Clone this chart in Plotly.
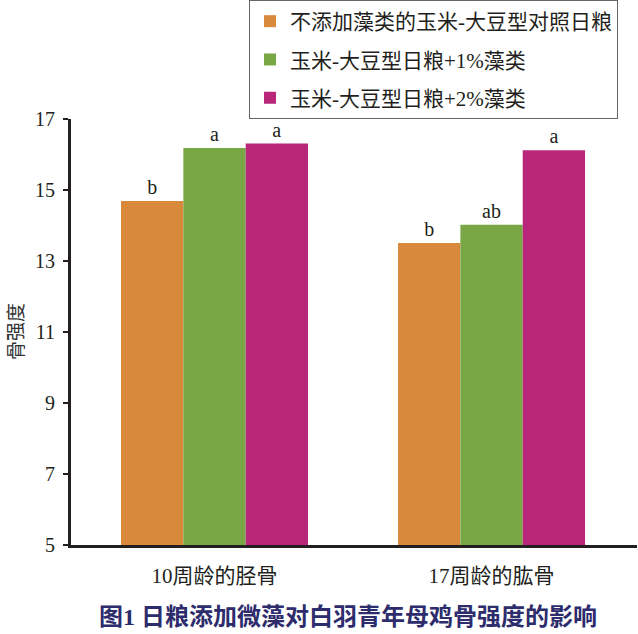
import plotly.graph_objects as go

categories = ["10周龄的胫骨", "17周龄的肱骨"]
series_names = ["不添加藻类的玉米-大豆型对照日粮", "玉米-大豆型日粮+1%藻类", "玉米-大豆型日粮+2%藻类"]
control_vals = [14.69, 13.51]
algae1_vals = [16.18, 14.02]
algae2_vals = [16.31, 16.12]
control_sig = ["b", "b"]
algae1_sig = ["a", "ab"]
algae2_sig = ["a", "a"]
colors = ["#d8893b", "#7aa746", "#b8277a"]
y_ticks = [5, 7, 9, 11, 13, 15, 17]
y_title = "骨强度"
fig_title = "图1 日粮添加微藻对白羽青年母鸡骨强度的影响"

fig = go.Figure()
for i, (name, vals, sig) in enumerate(zip(series_names,
                                          [control_vals, algae1_vals, algae2_vals],
                                          [control_sig, algae1_sig, algae2_sig])):
    fig.add_trace(go.Bar(
        x=categories, y=vals, name=name, legendgroup=f"g{i}",
        marker=dict(color=colors[i], line=dict(width=0)),
        text=sig, textposition="outside", constraintext="none",
        textfont=dict(family="Liberation Serif", size=20, color="#231f20"),
        cliponaxis=False,
    ))

axis_color = "#231f20"
fig.update_layout(
    width=638, height=634,
    margin=dict(l=71, r=1, t=118, b=89),
    paper_bgcolor="white", plot_bgcolor="white",
    barmode="group", bargap=0.325, bargroupgap=0,
    showlegend=True,
    legend=dict(
        x=(249 - 71) / 566, y=1 + 118 / 427, xanchor="left", yanchor="top",
        bordercolor="#666666", borderwidth=1, bgcolor="white",
        font=dict(family="Liberation Serif, Noto Sans CJK SC", size=21, color="#231f20"),
        traceorder="grouped", tracegroupgap=8,
    ),
    xaxis=dict(
        type="category", range=[-0.518, 1.525],
        showline=True, linewidth=3, linecolor=axis_color,
        ticks="", showgrid=False, zeroline=False,
        tickfont=dict(family="Liberation Serif, Noto Sans CJK SC", size=21, color="#231f20"),
        ticklabelstandoff=10,
    ),
    yaxis=dict(
        range=[5, 17], tickvals=y_ticks,
        showline=True, linewidth=3, linecolor=axis_color,
        ticks="outside", ticklen=5, tickwidth=2, tickcolor=axis_color,
        showgrid=False, zeroline=False,
        tickfont=dict(family="Liberation Serif", size=20, color="#231f20"),
        ticklabelstandoff=4,
    ),
    annotations=[
        dict(text=y_title, xref="paper", yref="paper", x=0, y=0.5,
             xanchor="center", yanchor="middle", xshift=-57, textangle=-90,
             showarrow=False,
             font=dict(family="Noto Sans CJK SC", size=19, color="#333333")),
        dict(text=fig_title, xref="paper", yref="paper", x=(348 - 71) / 566, y=(545.5 - 618) / 427,
             xanchor="center", yanchor="middle", showarrow=False,
             font=dict(family="Liberation Serif, Noto Sans CJK SC", size=24, color="#2d2c6c", weight="bold")),
    ],
)

fig.write_html("out.html")
